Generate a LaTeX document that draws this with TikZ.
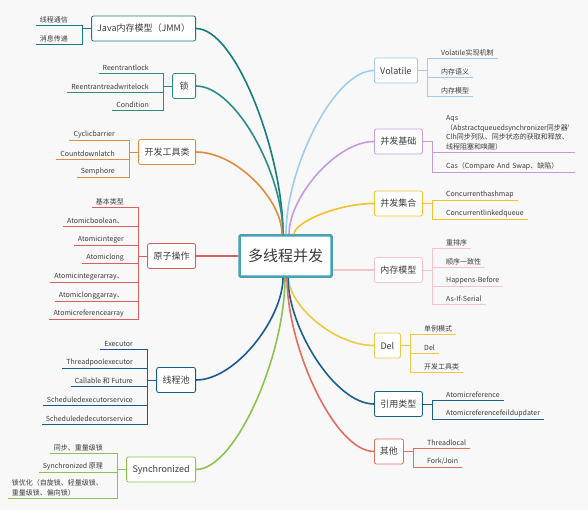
\documentclass[tikz,border=0pt]{standalone}
\usepackage{fontspec}
\newfontfamily\cjk{Noto Sans CJK SC}
\definecolor{bg}{RGB}{248,248,248}
\definecolor{txt}{RGB}{60,60,60}
\definecolor{rootc}{RGB}{70,160,185}
\definecolor{jmmc}{RGB}{20,125,125}
\definecolor{suoc}{RGB}{45,140,135}
\definecolor{toolc}{RGB}{225,140,60}
\definecolor{atomc}{RGB}{220,95,95}
\definecolor{poolc}{RGB}{25,90,150}
\definecolor{syncc}{RGB}{140,195,80}
\definecolor{volc}{RGB}{160,205,235}
\definecolor{basec}{RGB}{195,155,225}
\definecolor{collc}{RGB}{240,195,40}
\definecolor{memc}{RGB}{245,195,200}
\definecolor{delc}{RGB}{240,200,70}
\definecolor{refc}{RGB}{30,95,140}
\definecolor{otherc}{RGB}{225,110,95}

\begin{document}
\begin{tikzpicture}[x=1pt,y=-1pt,
  topic/.style={draw,fill=white,rounded corners=2pt,line width=.8pt,minimum height=25pt,inner sep=0pt,text=txt,font=\cjk\fontsize{9}{11}\selectfont},
  leaf/.style={inner xsep=4pt,inner ysep=2pt,align=left,text=txt,font=\cjk\fontsize{7}{9.5}\selectfont},
  branch/.style={line width=1.6pt},
  twig/.style={line width=.7pt}]
\path[use as bounding box,fill=bg] (0,0) rectangle (588,510);

\node[draw=rootc,line width=2.5pt,fill=white,rounded corners=1pt,minimum width=92pt,minimum height=41pt,text=txt,font=\cjk\fontsize{15}{18}\selectfont] (root) at (285.5,256) {多线程并发};

\node[topic,draw=jmmc,anchor=east,minimum width=104pt] (jmm) at (196,28.5) {Java内存模型（JMM）};
\node[topic,draw=suoc,anchor=east,minimum width=23pt] (suo) at (196,86) {锁};
\node[topic,draw=toolc,anchor=east,minimum width=57pt] (tool) at (196,152) {开发工具类};
\node[topic,draw=atomc,anchor=east,minimum width=48pt] (atom) at (196,256) {原子操作};
\node[topic,draw=poolc,anchor=east,minimum width=39pt] (pool) at (196,380) {线程池};
\node[topic,draw=syncc,anchor=east,minimum width=69pt] (sync) at (196,469.5) {Synchronized};

\node[topic,draw=volc,anchor=west,minimum width=43pt] (vol) at (374,70.5) {Volatile};
\node[topic,draw=basec,anchor=west,minimum width=48pt] (base) at (374,141.5) {并发基础};
\node[topic,draw=collc,anchor=west,minimum width=48pt] (coll) at (374,203.5) {并发集合};
\node[topic,draw=memc,anchor=west,minimum width=48pt] (mem) at (374,270) {内存模型};
\node[topic,draw=delc,anchor=west,minimum width=26pt] (del) at (374,345.5) {Del};
\node[topic,draw=refc,anchor=west,minimum width=48pt] (ref) at (374,404) {引用类型};
\node[topic,draw=otherc,anchor=west,minimum width=29pt] (other) at (374,451.5) {其他};

\draw[branch,jmmc] (jmm.east) .. controls +(40,0) and +(0,-80) .. ([xshift=-2.5pt]root.north);
\draw[branch,suoc] (suo.east) .. controls +(40,0) and +(0,-60) .. ([xshift=-2.5pt]root.north);
\draw[branch,toolc] (tool.east) .. controls +(40,0) and +(0,-35) .. ([xshift=-3.5pt]root.north);
\draw[branch,atomc] (atom.east) -- (root.west);
\draw[branch,poolc] (pool.east) .. controls +(40,0) and +(0,40) .. ([xshift=-2.5pt]root.south);
\draw[branch,syncc] (sync.east) .. controls +(40,0) and +(0,77) .. ([xshift=-.5pt]root.south);
\draw[branch,volc] (vol.west) .. controls +(-40,0) and +(0,-66) .. ([xshift=.5pt]root.north);
\draw[branch,basec] (base.west) .. controls +(-38,0) and +(0,-37) .. ([xshift=3.5pt]root.north);
\draw[branch,collc] (coll.west) .. controls +(-36,0) and +(0,-12) .. ([xshift=8.5pt]root.north);
\draw[branch,memc] (mem.west) -- (mem.west -| root.east);
\draw[branch,delc] (del.west) .. controls +(-40,0) and +(0,27) .. ([xshift=3pt]root.south);
\draw[branch,refc] (ref.west) .. controls +(-39,0) and +(0,50) .. ([xshift=2.5pt]root.south);
\draw[branch,otherc] (other.west) .. controls +(-39,0) and +(0,70) .. ([xshift=1.5pt]root.south);

\foreach \t/\y [count=\i] in {线程通信/25,消息传递/44}{
  \node[leaf,anchor=south east] (jmm\i) at (72,\y) {\t};
  \draw[twig,jmmc] (jmm\i.south west) -- (jmm\i.south east);
  \draw[twig,jmmc] (jmm.west) -- ++(-9,0) |- (jmm\i.south east);
}
\foreach \t/\y [count=\i] in {Reentrantlock/73,Reentrantreadwritelock/92,Condition/110}{
  \node[leaf,anchor=south east] (suo\i) at (153,\y) {\t};
  \draw[twig,suoc] (suo\i.south west) -- (suo\i.south east);
  \draw[twig,suoc] (suo.west) -- ++(-9,0) |- (suo\i.south east);
}
\foreach \t/\y [count=\i] in {Cyclicbarrier/140,Countdownlatch/159,Semphore/177}{
  \node[leaf,anchor=south east] (tool\i) at (119,\y) {\t};
  \draw[twig,toolc] (tool\i.south west) -- (tool\i.south east);
  \draw[twig,toolc] (tool.west) -- ++(-9,0) |- (tool\i.south east);
}
\foreach \t/\y [count=\i] in {基本类型/207,Atomicboolean、/226,Atomicinteger/245,Atomiclong/263,Atomicintegerarray、/282,Atomiclonggarray、/301,Atomicreferencearray/319}{
  \node[leaf,anchor=south east] (atom\i) at (128,\y) {\t};
  \draw[twig,atomc] (atom\i.south west) -- (atom\i.south east);
  \draw[twig,atomc] (atom.west) -- ++(-9,0) |- (atom\i.south east);
}
\foreach \t/\y [count=\i] in {Executor/349,Threadpoolexecutor/368,Callable 和 Future/386,Scheduledexecutorservice/405,Schedulededecutorservice/424}{
  \node[leaf,anchor=south east] (pool\i) at (137,\y) {\t};
  \draw[twig,poolc] (pool\i.south west) -- (pool\i.south east);
  \draw[twig,poolc] (pool.west) -- ++(-9,0) |- (pool\i.south east);
}
\foreach \t/\y [count=\i] in {同步、重量级锁/453,Synchronized 原理/472,{锁优化（自旋锁、轻量级锁、\\重量级锁、偏向锁）}/498}{
  \node[leaf,anchor=south east] (sync\i) at (107,\y) {\t};
  \draw[twig,syncc] (sync\i.south west) -- (sync\i.south east);
  \draw[twig,syncc] (sync.west) -- ++(-9,0) |- (sync\i.south east);
}

\foreach \t/\y [count=\i] in {Volatile实现机制/58,内存语义/77,内存模型/96}{
  \node[leaf,anchor=south west] (vol\i) at (437,\y) {\t};
  \draw[twig,volc] (vol\i.south west) -- (vol\i.south east);
  \draw[twig,volc] (vol.east) -- ++(10,0) |- (vol\i.south west);
}
\node[leaf,anchor=south west,text width=125pt] (base1) at (442,152) {Aqs\\（Abstractqueuedsynchronizer同步器'\\Clh同步列队、同步状态的获取和释放、\\线程阻塞和唤醒）};
\node[leaf,anchor=south west,text width=125pt] (base2) at (442,172) {Cas（Compare And Swap、缺陷）};
\foreach \i in {1,2}{
  \draw[twig,basec] (base\i.south west) -- (base\i.south east);
  \draw[twig,basec] (base.east) -- ++(10,0) |- (base\i.south west);
}
\foreach \t/\y [count=\i] in {Concurrenthashmap/200,Concurrentlinkedqueue/219}{
  \node[leaf,anchor=south west] (coll\i) at (442,\y) {\t};
  \draw[twig,collc] (coll\i.south west) -- (coll\i.south east);
  \draw[twig,collc] (coll.east) -- ++(10,0) |- (coll\i.south west);
}
\foreach \t/\y [count=\i] in {重排序/248,顺序一致性/267,Happens-Before/286,As-If-Serial/304}{
  \node[leaf,anchor=south west] (mem\i) at (442,\y) {\t};
  \draw[twig,memc] (mem\i.south west) -- (mem\i.south east);
  \draw[twig,memc] (mem.east) -- ++(10,0) |- (mem\i.south west);
}
\foreach \t/\y [count=\i] in {单例模式/334,Del/353,开发工具类/372}{
  \node[leaf,anchor=south west] (del\i) at (420,\y) {\t};
  \draw[twig,delc] (del\i.south west) -- (del\i.south east);
  \draw[twig,delc] (del.east) -- ++(10,0) |- (del\i.south west);
}
\foreach \t/\y [count=\i] in {Atomicreference/400,Atomicreferencefeildupdater/419}{
  \node[leaf,anchor=south west] (ref\i) at (442,\y) {\t};
  \draw[twig,refc] (ref\i.south west) -- (ref\i.south east);
  \draw[twig,refc] (ref.east) -- ++(10,0) |- (ref\i.south west);
}
\foreach \t/\y [count=\i] in {Threadlocal/448,{Fork/Join}/467}{
  \node[leaf,anchor=south west] (other\i) at (423,\y) {\t};
  \draw[twig,otherc] (other\i.south west) -- (other\i.south east);
  \draw[twig,otherc] (other.east) -- ++(10,0) |- (other\i.south west);
}

\end{tikzpicture}
\end{document}
